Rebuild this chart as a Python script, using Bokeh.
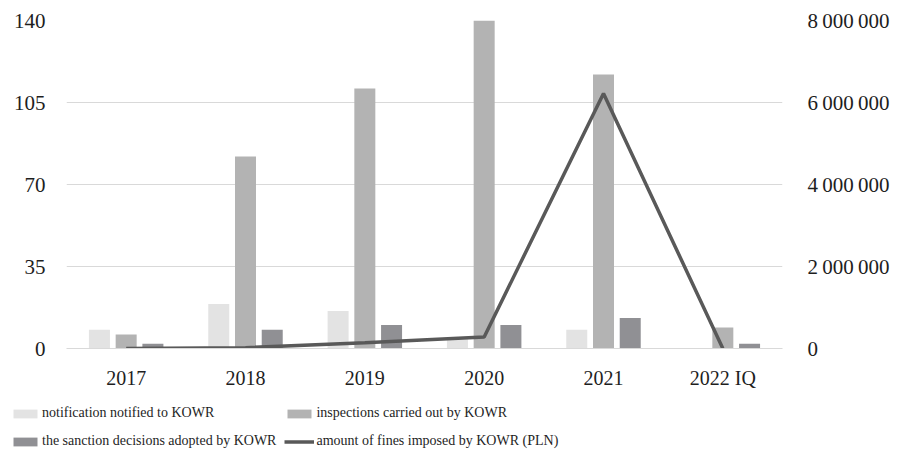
from bokeh.plotting import figure
from bokeh.models import (ColumnDataSource, FactorRange, Range1d, LinearAxis, FixedTicker,
                          CustomJSTickFormatter, Legend, LegendItem)
from bokeh.layouts import column
from bokeh.transform import dodge
from bokeh.embed import file_html
from bokeh.resources import INLINE

years = ["2017", "2018", "2019", "2020", "2021", "2022 IQ"]
notifications = [8, 19, 16, 4, 8, 0]
inspections = [6, 82, 111, 140, 117, 9]
sanctions = [2, 8, 10, 10, 13, 2]
fines = [0, 20000, 140000, 280000, 6220000, 0]

left_ticks = [0, 35, 70, 105, 140]
right_ticks = [0, 2000000, 4000000, 6000000, 8000000]

series_labels = ["notification notified to KOWR", "inspections carried out by KOWR",
                 "the sanction decisions adopted by KOWR", "amount of fines imposed by KOWR (PLN)"]

src = ColumnDataSource(dict(year=years, notif=notifications, insp=inspections,
                            sanc=sanctions, fines=fines))

FONT = "Liberation Serif"
TXT = "#1e1e1e"
C_NOTIF, C_INSP, C_SANC, C_LINE = "#e3e3e3", "#b3b3b3", "#909094", "#595959"

p = figure(x_range=FactorRange(*years, range_padding=0), y_range=Range1d(0, 140),
           width=904, height=395, output_backend="svg", toolbar_location=None,
           min_border_left=66, min_border_right=122, min_border_top=20, min_border_bottom=47)
p.extra_y_ranges = {"fines": Range1d(0, 8000000)}
p.frame_align = False

bw = 0.176
off = 0.224
p.vbar(x=dodge("year", -off, range=p.x_range), top="notif", width=bw, source=src,
       fill_color=C_NOTIF, line_color=None)
p.vbar(x=dodge("year", 0, range=p.x_range), top="insp", width=bw, source=src,
       fill_color=C_INSP, line_color=None)
p.vbar(x=dodge("year", off, range=p.x_range), top="sanc", width=bw, source=src,
       fill_color=C_SANC, line_color=None)
p.line(x="year", y="fines", source=src, y_range_name="fines",
       line_color=C_LINE, line_width=3.5)

p.outline_line_color = None
p.xgrid.grid_line_color = None
p.ygrid.grid_line_color = "#d9d9d9"
p.ygrid.grid_line_width = 1

p.yaxis.ticker = FixedTicker(ticks=left_ticks)
p.yaxis.axis_line_color = None
p.yaxis.major_tick_line_color = None
p.yaxis.minor_tick_line_color = None
p.yaxis.major_label_standoff = 15
p.yaxis.major_label_text_font = FONT
p.yaxis.major_label_text_font_size = "21px"
p.yaxis.major_label_text_color = TXT

p.xaxis.axis_line_color = "#d9d9d9"
p.xaxis.major_tick_line_color = None
p.xaxis.minor_tick_line_color = None
p.xaxis.major_label_standoff = 12
p.xaxis.major_label_text_font = FONT
p.xaxis.major_label_text_font_size = "20px"
p.xaxis.major_label_text_color = TXT

ra = LinearAxis(y_range_name="fines", ticker=FixedTicker(ticks=right_ticks),
                formatter=CustomJSTickFormatter(code="return Math.round(tick).toString().replace(/\\B(?=(\\d{3})+(?!\\d))/g, '\u2009');"))
ra.axis_line_color = None
ra.major_tick_line_color = None
ra.minor_tick_line_color = None
ra.major_label_standoff = 19
ra.major_label_text_font = FONT
ra.major_label_text_font_size = "21px"
ra.major_label_text_color = TXT
p.add_layout(ra, "right")

# legend strip below the chart (its ranges keep the swatch renderers out of view)
q = figure(width=904, height=63, output_backend="svg", toolbar_location=None,
           x_range=FactorRange(*years), y_range=Range1d(1000, 1001),
           x_axis_type=None, y_axis_type=None,
           min_border=0, min_border_left=0, min_border_right=0, min_border_top=0, min_border_bottom=0)
q.frame_align = False
q.outline_line_color = None
q.xgrid.grid_line_color = None
q.ygrid.grid_line_color = None
l1 = q.vbar(x="year", top="notif", width=0.1, source=src, fill_color=C_NOTIF, line_color=None)
l2 = q.vbar(x="year", top="insp", width=0.1, source=src, fill_color=C_INSP, line_color=None)
l3 = q.vbar(x="year", top="sanc", width=0.1, source=src, fill_color=C_SANC, line_color=None)
l4 = q.line(x="year", y="notif", source=src, line_color=C_LINE, line_width=3.5)

order = [0, 2, 1, 3]
rends = [l1, l2, l3, l4]
legend = Legend(items=[LegendItem(label=series_labels[i], renderers=[rends[i]]) for i in order],
                ncols=2, location=(10, 7))
legend.label_text_font = FONT
legend.label_text_font_size = "14px"
legend.label_text_color = TXT
legend.glyph_width = 30
legend.glyph_height = 11
legend.label_height = 20
legend.label_standoff = 2
legend.spacing = 8
legend.padding = 0
legend.margin = 0
legend.border_line_color = None
legend.background_fill_alpha = 0
q.add_layout(legend, "center")

layout = column(p, q, spacing=0)
open("out.html", "w").write(file_html(layout, INLINE))
